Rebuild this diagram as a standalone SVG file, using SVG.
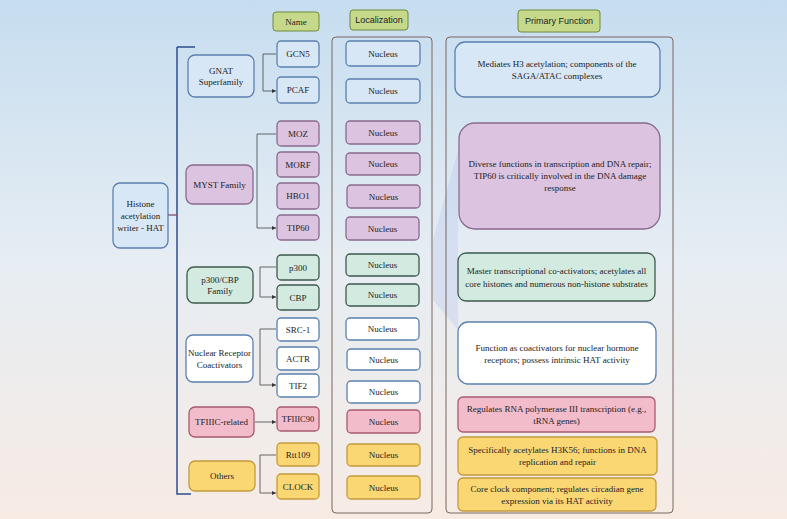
<svg xmlns="http://www.w3.org/2000/svg" width="787" height="519" viewBox="0 0 787 519">
<defs>
<linearGradient id="bg" x1="0" y1="0" x2="0" y2="1"><stop offset="0" stop-color="#c6ddf0"/><stop offset="0.5" stop-color="#e6edf3"/><stop offset="1" stop-color="#f7ebe4"/></linearGradient>
<marker id="ar" viewBox="0 0 6 6" refX="6" refY="3" markerWidth="5" markerHeight="5" orient="auto"><path d="M0,0L6,3L0,6z" fill="#333"/></marker>
</defs>
<style>
text{font-family:"Liberation Serif",serif;font-size:9px;fill:#222;text-anchor:middle;dominant-baseline:central}
.h{font-family:"Liberation Sans",sans-serif;font-size:9px}
.hd{fill:#c6d98a;stroke:#6e8a3c;stroke-width:1}
.pn{fill:none;stroke:#7a6660;stroke-width:1}
.b{fill:#d7e7f6;stroke:#5b80ae;stroke-width:1.3}
.p{fill:#dcc4e0;stroke:#8a6a8f;stroke-width:1.3}
.g{fill:#d2eadf;stroke:#3d5a4d;stroke-width:1.3}
.w{fill:#ffffff;stroke:#5b80ae;stroke-width:1.3}
.r{fill:#f2bccb;stroke:#a85a72;stroke-width:1.3}
.y{fill:#fbd774;stroke:#c29b3c;stroke-width:1.3}
.c{fill:none;stroke:#444;stroke-width:0.8;marker-end:url(#ar)}
</style>
<rect width="787" height="519" fill="url(#bg)"/>
<polygon points="433,240 458,150 458,330 433,300" fill="#aebfee" opacity="0.3"/>
<g id="headers">
<rect class="hd" x="273" y="12" width="46" height="19" rx="3"/><text x="296" y="22">Name</text>
<rect class="hd" x="350" y="10" width="58" height="20" rx="3"/><text class="h" x="379" y="20">Localization</text>
<rect class="hd" x="518" y="10" width="82" height="22" rx="3"/><text class="h" x="559" y="21">Primary Function</text>
</g>
<rect class="pn" x="332" y="37" width="100" height="476" rx="4"/>
<rect class="pn" x="446" y="37" width="227" height="476" rx="4"/>
<g id="connectors">
<path d="M177,47H195M177,47V494H191" fill="none" stroke="#2d4e8f" stroke-width="1.5"/>
<path d="M168,215H177" stroke="#8a4a6a" stroke-width="1.3"/>
<path class="c" d="M276,54H263V91H276"/>
<path class="c" d="M276,134H257V228H276"/>
<path class="c" d="M276,267H260V297H276"/>
<path class="c" d="M276,329H260V385H276"/>
<path class="c" d="M255,422H276"/>
<path class="c" d="M276,455H260V493H276"/>
</g>
<g id="root"><rect class="b" x="113" y="183" width="55" height="65" rx="7"/><text x="140.5" y="204">Histone</text><text x="140.5" y="216">acetylation</text><text x="140.5" y="228">writer - HAT</text></g>
<g id="gnat"><rect class="b" x="188" y="55" width="66" height="42" rx="7"/><text x="221" y="71">GNAT</text><text x="221" y="82">Superfamily</text></g>
<g id="myst"><rect class="p" x="186" y="165" width="67" height="39" rx="7"/><text x="219.5" y="185">MYST Family</text></g>
<g id="p300cbp"><rect class="g" x="187" y="267" width="66" height="36" rx="7"/><text x="220" y="280">p300/CBP</text><text x="220" y="291">Family</text></g>
<g id="nrc"><rect class="w" x="186" y="335" width="67" height="47" rx="7"/><text x="219.5" y="353">Nuclear Receptor</text><text x="219.5" y="365">Coactivators</text></g>
<g id="tfiiic"><rect class="r" x="189" y="407" width="65" height="30" rx="6"/><text x="221.5" y="422">TFIIIC-related</text></g>
<g id="others"><rect class="y" x="189" y="461" width="66" height="30" rx="6"/><text x="222" y="476">Others</text></g>
<g id="names">
<g id="gcn5"><rect class="b" x="277" y="41" width="42" height="26" rx="4"/><text x="298" y="54">GCN5</text></g>
<g id="pcaf"><rect class="b" x="277" y="77" width="42" height="26" rx="4"/><text x="298" y="90">PCAF</text></g>
<g id="moz"><rect class="p" x="277" y="121" width="42" height="25" rx="4"/><text x="298" y="133.5">MOZ</text></g>
<g id="morf"><rect class="p" x="277" y="152" width="42" height="25" rx="4"/><text x="298" y="164.5">MORF</text></g>
<g id="hbo1"><rect class="p" x="277" y="183" width="42" height="26" rx="4"/><text x="298" y="196">HBO1</text></g>
<g id="tip60"><rect class="p" x="277" y="215" width="42" height="25" rx="4"/><text x="298" y="227.5">TIP60</text></g>
<g id="p300"><rect class="g" x="277" y="255" width="42" height="25" rx="4"/><text x="298" y="267.5">p300</text></g>
<g id="cbp"><rect class="g" x="277" y="285" width="42" height="25" rx="4"/><text x="298" y="297.5">CBP</text></g>
<g id="src1"><rect class="w" x="277" y="318" width="42" height="23" rx="4"/><text x="298" y="329.5">SRC-1</text></g>
<g id="actr"><rect class="w" x="277" y="347" width="42" height="23" rx="4"/><text x="298" y="358.5">ACTR</text></g>
<g id="tif2"><rect class="w" x="277" y="374" width="42" height="23" rx="4"/><text x="298" y="385.5">TIF2</text></g>
<g id="tfiiic90"><rect class="r" x="277" y="407" width="42" height="24" rx="4"/><text x="298" y="419" style="font-size:8.5px">TFIIIC90</text></g>
<g id="rtt109"><rect class="y" x="277" y="443" width="42" height="23" rx="4"/><text x="298" y="454.5">Rtt109</text></g>
<g id="clock"><rect class="y" x="277" y="474" width="42" height="25" rx="4"/><text x="298" y="486.5">CLOCK</text></g>
</g>
<g id="localization">
<rect class="b" x="346" y="41" width="74" height="25" rx="4"/><text x="383" y="53.5">Nucleus</text>
<rect class="b" x="346" y="79" width="74" height="24" rx="4"/><text x="383" y="91">Nucleus</text>
<rect class="p" x="346" y="121" width="74" height="23" rx="4"/><text x="383" y="132.5">Nucleus</text>
<rect class="p" x="346" y="153" width="74" height="22" rx="4"/><text x="383" y="164">Nucleus</text>
<rect class="p" x="347" y="185" width="73" height="23" rx="4"/><text x="383.5" y="196.5">Nucleus</text>
<rect class="p" x="346" y="217" width="73" height="23" rx="4"/><text x="382.5" y="228.5">Nucleus</text>
<rect class="g" x="346" y="254" width="73" height="22" rx="4"/><text x="382.5" y="265">Nucleus</text>
<rect class="g" x="346" y="284" width="73" height="22" rx="4"/><text x="382.5" y="295">Nucleus</text>
<rect class="w" x="346" y="318" width="73" height="22" rx="4"/><text x="382.5" y="329">Nucleus</text>
<rect class="w" x="347" y="349" width="73" height="21" rx="4"/><text x="383.5" y="359.5">Nucleus</text>
<rect class="w" x="347" y="381" width="73" height="22" rx="4"/><text x="383.5" y="392">Nucleus</text>
<rect class="r" x="347" y="410" width="73" height="23" rx="4"/><text x="383.5" y="421.5">Nucleus</text>
<rect class="y" x="347" y="444" width="73" height="22" rx="4"/><text x="383.5" y="455">Nucleus</text>
<rect class="y" x="347" y="476" width="73" height="23" rx="4"/><text x="383.5" y="487.5">Nucleus</text>
</g>
<g id="functions">
<g><rect class="b" x="455" y="42" width="205" height="55" rx="10"/><text x="557" y="64">Mediates H3 acetylation; components of the</text><text x="557" y="76">SAGA/ATAC complexes</text></g>
<g><rect class="p" x="459" y="123" width="201" height="106" rx="16"/><text x="560" y="164">Diverse functions in transcription and DNA repair;</text><text x="560" y="176">TIP60 is critically involved in the DNA damage</text><text x="560" y="188">response</text></g>
<g><rect class="g" x="458" y="253" width="197" height="48" rx="8"/><text x="556.5" y="271">Master transcriptional co-activators; acetylates all</text><text x="556.5" y="284">core histones and numerous non-histone substrates</text></g>
<g><rect class="w" x="458" y="322" width="198" height="62" rx="10"/><text x="557" y="348">Function as coactivators for nuclear hormone</text><text x="557" y="360">receptors; possess intrinsic HAT activity</text></g>
<g><rect class="r" x="458" y="397" width="197" height="35" rx="5"/><text x="556.5" y="409">Regulates RNA polymerase III transcription (e.g.,</text><text x="556.5" y="421">tRNA genes)</text></g>
<g><rect class="y" x="458" y="437" width="199" height="38" rx="5"/><text x="557.5" y="450">Specifically acetylates H3K56; functions in DNA</text><text x="557.5" y="462">replication and repair</text></g>
<g><rect class="y" x="458" y="478" width="198" height="33" rx="5"/><text x="557" y="489">Core clock component; regulates circadian gene</text><text x="557" y="501">expression via its HAT activity</text></g>
</g>
</svg>
